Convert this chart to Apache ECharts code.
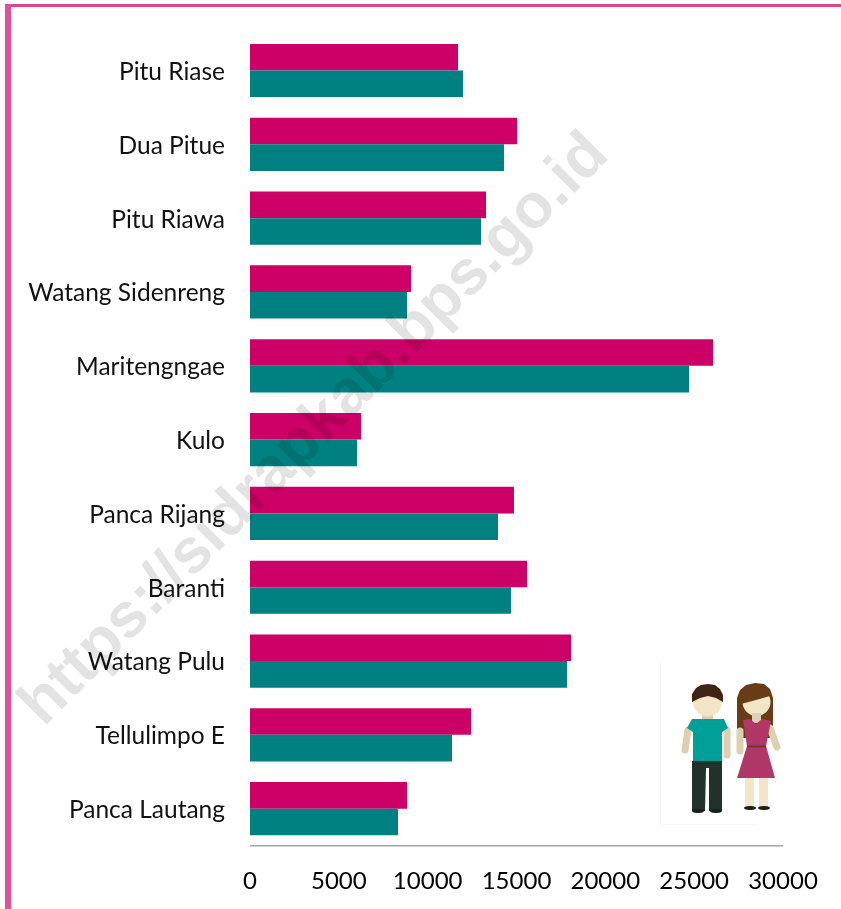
<!DOCTYPE html>
<html><head><meta charset="utf-8">
<style>html,body{margin:0;padding:0;background:#fff}#c{width:841px;height:909px}</style>
<script src="https://cdn.jsdelivr.net/npm/echarts@6/dist/echarts.min.js"></script></head>
<body><div id="c"></div>
<script>
const categories = ['Pitu Riase','Dua Pitue','Pitu Riawa','Watang Sidenreng','Maritengngae','Kulo','Panca Rijang','Baranti','Watang Pulu','Tellulimpo E','Panca Lautang'];
const pinkValues = [11707,15028,13283,9062,26060,6248,14859,15591,18067,12439,8837];
const tealValues = [11988,14296,13002,8837,24709,6022,13959,14690,17842,11370,8330];
const axisTicks = [0,5000,10000,15000,20000,25000,30000];
const watermark = 'https://sidrapkab.bps.go.id';
const font = 'Lato,"Open Sans",sans-serif';
const skin='#f2e6c6', limb='#dcd0b0', hairM='#3f2415', hairF='#673c16', dress='#b03768', shirt='#009f98', pants='#203229';
const r=(x,y,w,h,fill,rad)=>({type:'rect',shape:{x,y,width:w,height:h,r:rad||0},style:{fill},z:20});
const c=(cx,cy,rx,ry,fill,z)=>({type:'ellipse',shape:{cx,cy,rx,ry},style:{fill},z:z||20});
const p=(points,fill,z)=>({type:'polygon',shape:{points},style:{fill},z:z||20});
const limbLine=(x1,y1,x2,y2,w)=>({type:'line',shape:{x1,y1,x2,y2},style:{stroke:limb,lineWidth:w,lineCap:'round'},z:19});
const people=[
 r(660,660,1,165,'#f7f7f7'), r(660,824,97,1,'#f7f7f7'),
 limbLine(688,730,685,750,7), limbLine(727,730,727,755,7),
 r(702,712,11,10,limb),
 c(707.5,702,14.5,14.5,skin),
 p([[692,702],[692,694],[696,688],[701,685],[708,684],[715,685],[720,689],[723,695],[723,702],[716,698],[708,696],[700,698]],hairM,21),
 p([[692,719],[724,719],[728,728],[722,732],[722,761],[693,761],[693,732],[687,728]],shirt,21),
 p([[692,761],[722,761],[722,811],[709,811],[709,768],[706,768],[705,811],[692,811]],pants,20),
 c(698,811,6,2,'#1d1d1d'), c(716,811,6,2,'#1d1d1d'),
 p([[737,738],[737,698],[740,690],[746,685],[755,683],[764,684],[770,689],[773,698],[773,738]],hairF,18),
 c(756.5,702,14,14,skin),
 p([[741,704],[742,695],[748,689],[756,687],[765,688],[770,696],[756,700]],hairF,21),
 r(752,713,9,10,limb),
 limbLine(740,731,740,751,7), limbLine(770,728,777,747,7),
 p([[743,720],[750,719],[756,724],[762,719],[771,721],[766,746],[747,746]],dress,21),
 p([[747,746],[766,746],[775,778],[737,778]],dress,21),
 {type:'rect',shape:{x:747,y:745.5,width:19,height:2},style:{fill:'#6b3a24'},z:22},
 r(745,778,9,30,skin), r(759,778,9,30,skin),
 c(750,808,6,2,'#1d1d1d'), c(764,808,6,2,'#1d1d1d')
];
const chart = echarts.init(document.getElementById('c'),null,{renderer:'canvas'});
chart.setOption({
 animation:false,
 backgroundColor:'#fff',
 grid:{left:250,top:33.6,width:533,height:812,containLabel:false},
 xAxis:{type:'value',min:0,max:30000,interval:5000,splitLine:{show:false},axisTick:{show:false},
   axisLine:{show:false},
   axisLabel:{color:'#000',fontFamily:font,fontSize:24,margin:24,showMaxLabel:true,showMinLabel:true,
     formatter:v=>axisTicks.includes(v)?String(v):''}},
 yAxis:{type:'category',data:categories,inverse:true,
   axisLine:{show:false},axisTick:{show:false},
   axisLabel:{color:'#111',fontFamily:font,fontSize:24.5,margin:25,verticalAlign:'top',lineHeight:3}},
 series:[
  {type:'bar',name:'Perempuan',data:pinkValues,barWidth:26.6,barGap:'0%',itemStyle:{color:'#cc0066'}},
  {type:'bar',name:'Laki-laki',data:tealValues,barWidth:26.6,barGap:'0%',itemStyle:{color:'#008080'}}
 ],
 graphic:[
  r(5,4,836,3,'#e0408f'), r(5,4,6,905,'#e2509b'),
  r(250,845,533,1.5,'#a6a6a6'),
  ...people,
  {type:'text',x:315,y:430,rotation:45.2*Math.PI/180,z:50,silent:true,
   style:{text:watermark,fill:'rgba(0,0,0,0.11)',font:'bold 63px "Liberation Sans",sans-serif',align:'center',verticalAlign:'middle'}}
 ]
});
</script></body></html>
